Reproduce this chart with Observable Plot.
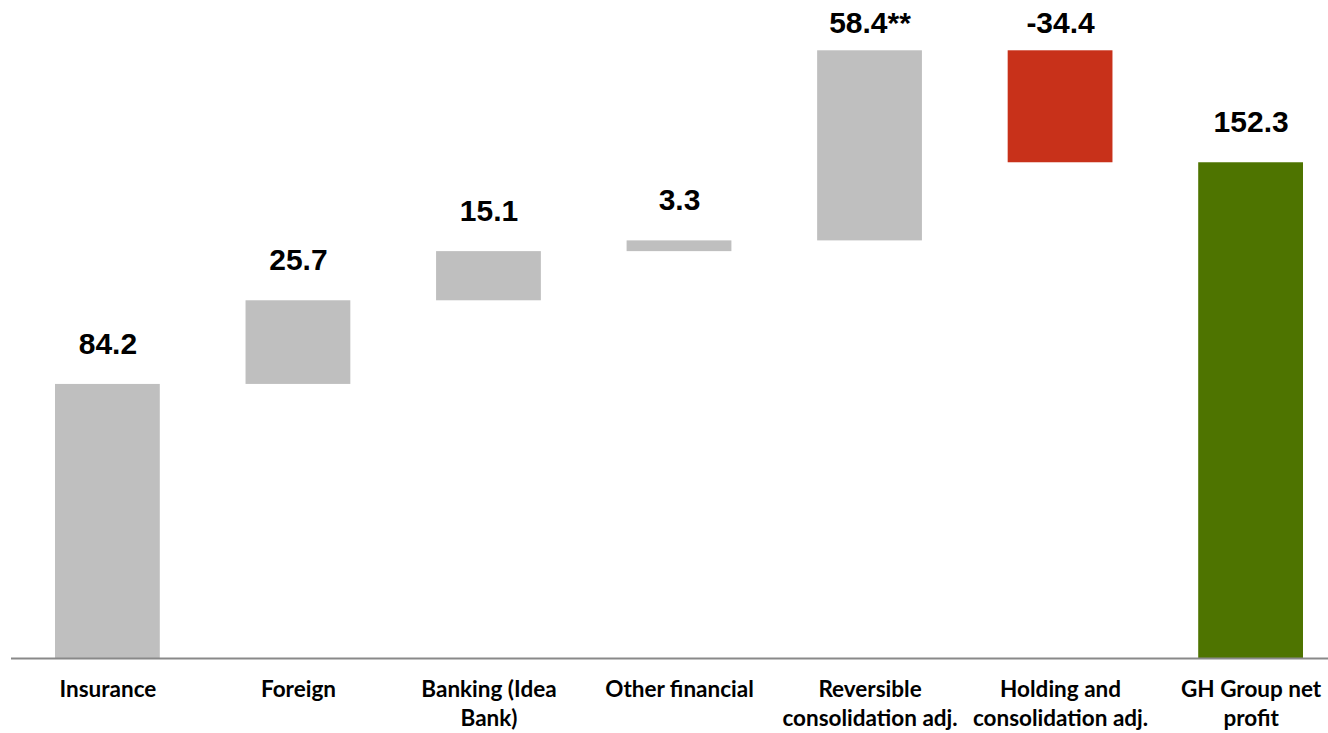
<!DOCTYPE html>
<html>
<head>
<meta charset="utf-8">
<script src="https://cdn.jsdelivr.net/npm/d3@7"></script>
<script src="https://cdn.jsdelivr.net/npm/@observablehq/plot@0.6"></script>
<style>
  html, body { margin: 0; padding: 0; background: #fff; }
</style>
</head>
<body>
<div id="chart"></div>
<script>
const categories = ["Insurance", "Foreign", "Banking (Idea Bank)", "Other financial", "Reversible consolidation adj.", "Holding and consolidation adj.", "GH Group net profit"];
const axisLabels = ["Insurance", "Foreign", "Banking (Idea\nBank)", "Other financial", "Reversible\nconsolidation adj.", "Holding and\nconsolidation adj.", "GH Group net\nprofit"];
const values = [84.2, 25.7, 15.1, 3.3, 58.4, -34.4, 152.3];
const valueLabels = ["84.2", "25.7", "15.1", "3.3", "58.4**", "-34.4", "152.3"];
const kinds = ["increase", "increase", "increase", "increase", "increase", "decrease", "total"];

let running = 0;
const rows = categories.map((c, i) => {
  let start, end;
  if (kinds[i] === "total") { start = 0; end = values[i]; running = values[i]; }
  else { start = running; end = running + values[i]; running = end; }
  const top = Math.max(start, end);
  // label sits a little above the bar, kept inside the top of the frame
  return { cat: c, start, end, top, labelY: Math.min(top + 9.5, 192.3), label: valueLabels[i], kind: kinds[i] };
});
const labelMap = new Map(categories.map((c, i) => [c, axisLabels[i]]));

const chart = Plot.plot({
  width: 1328,
  height: 733,
  marginTop: 7,
  marginBottom: 75,
  marginLeft: 11,
  marginRight: 0,
  style: { background: "#fff", color: "#000" },
  x: { domain: categories, range: [55, 1303], paddingInner: 0.45, paddingOuter: 0, round: false },
  y: { domain: [0, 200], axis: null },
  color: { domain: ["increase", "decrease", "total"], range: ["#BFBFBF", "#C8311A", "#4E7400"] },
  marks: [
    Plot.barY(rows, { x: "cat", y1: "start", y2: "end", fill: "kind" }),
    Plot.ruleY([0], { stroke: "#898989", strokeWidth: 2 }),
    Plot.text(rows, {
      x: "cat", y: "labelY", text: "label", lineAnchor: "bottom",
      fontSize: 30, fontWeight: "bold", fontFamily: "Liberation Sans, Arial, sans-serif", fill: "#000"
    }),
    Plot.axisX({
      tickSize: 0, tickPadding: 18, fontSize: 22.5, fontWeight: "bold",
      fontFamily: "Lato, sans-serif", lineHeight: 1.29, fill: "#000",
      tickFormat: d => labelMap.get(d), label: null
    })
  ]
});
document.getElementById("chart").appendChild(chart);
</script>
</body>
</html>
